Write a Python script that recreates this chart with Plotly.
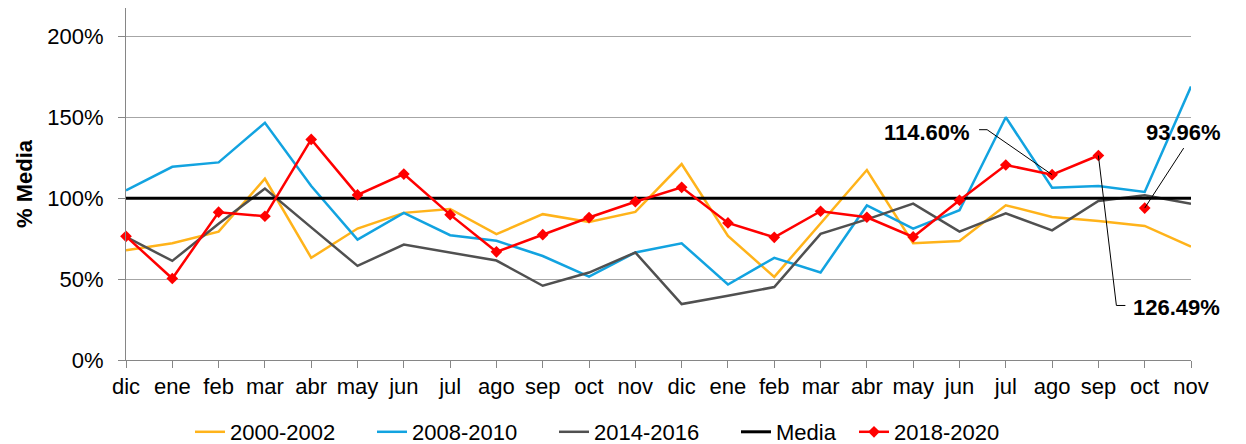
import plotly.graph_objects as go

months = ["dic", "ene", "feb", "mar", "abr", "may", "jun", "jul", "ago", "sep", "oct", "nov",
          "dic", "ene", "feb", "mar", "abr", "may", "jun", "jul", "ago", "sep", "oct", "nov"]

s2000_2002 = [67.9, 72.2, 79.4, 112.1, 63.2, 81.3, 91.0, 93.4, 77.8, 90.2, 85.4, 91.6,
              121.2, 76.7, 51.4, 84.6, 117.5, 72.2, 73.6, 95.7, 88.5, 86.0, 82.9, 70.1]
s2008_2010 = [104.9, 119.5, 122.2, 146.7, 107.6, 74.5, 91.0, 77.2, 73.7, 64.3, 51.6, 66.5,
              72.2, 46.7, 63.2, 54.1, 95.6, 81.2, 92.6, 150.1, 106.6, 107.6, 103.9, 169.1]
s2014_2016 = [76.1, 61.3, 84.2, 106.0, 82.0, 58.2, 71.4, 66.5, 61.5, 45.9, 54.1, 66.5,
              34.6, 39.7, 45.1, 78.0, 87.0, 96.7, 79.4, 90.7, 80.2, 98.4, 101.9, 96.7]
media = [100.0] * 24
s2018_2020 = [76.5, 50.4, 91.4, 88.9, 136.4, 102.1, 115.0, 89.9, 66.9, 77.5, 88.1, 97.9,
              106.8, 84.8, 75.9, 92.0, 88.3, 76.1, 98.8, 120.6, 114.60, 126.49]
s2018_2020_last = [93.96]   # oct, plotted on its own (not joined to sep)

y_ticks = [0, 50, 100, 150, 200]

x = list(range(len(months)))
FONT = "Liberation Sans, Arial, sans-serif"
W, H = 1238, 436

fig = go.Figure()
fig.add_trace(go.Scatter(x=x, y=s2000_2002, name="2000-2002", mode="lines", legend="legend",
                         line=dict(color="#FFB31A", width=2.5), cliponaxis=False))
fig.add_trace(go.Scatter(x=x, y=s2008_2010, name="2008-2010", mode="lines", legend="legend",
                         line=dict(color="#12A3E0", width=2.5), cliponaxis=False))
fig.add_trace(go.Scatter(x=x, y=s2014_2016, name="2014-2016", mode="lines", legend="legend",
                         line=dict(color="#505050", width=2.5), cliponaxis=False))
fig.add_trace(go.Scatter(x=x, y=media, name="Media", mode="lines", legend="legend2",
                         line=dict(color="#000000", width=3), cliponaxis=False))
fig.add_trace(go.Scatter(x=x[:len(s2018_2020)], y=s2018_2020, name="2018-2020", mode="lines+markers",
                         legend="legend3",
                         line=dict(color="#FF0000", width=2.5),
                         marker=dict(symbol="diamond", size=9, color="#FF0000"), cliponaxis=False))
fig.add_trace(go.Scatter(x=x[len(s2018_2020):len(s2018_2020) + 1], y=s2018_2020_last,
                         name="2018-2020", mode="markers", showlegend=False,
                         marker=dict(symbol="diamond", size=9, color="#FF0000"), cliponaxis=False))

ann_font = dict(family=FONT, size=22, color="#000000")
iago, isep, ioct = 20, 21, 22
lbl = [
    (iago, s2018_2020[iago], "<b>114.60%</b>", "right", -80, 42, "M0,0 L-65,45 L-73,45"),
    (isep, s2018_2020[isep], "<b>126.49%</b>", "left", 33, -152, "M0,0 L18,-150 L27,-150"),
    (ioct, s2018_2020_last[0], "<b>93.96%</b>", "center", 39, 76, "M0,0 L39,60"),
]
for xi, yv, txt, xa, xs, ys, path in lbl:
    fig.add_annotation(x=xi, y=yv, text=txt, showarrow=False, xanchor=xa, yanchor="middle",
                       xshift=xs, yshift=ys, font=ann_font)
    fig.add_shape(type="path", xref="x", yref="y", xsizemode="pixel", ysizemode="pixel",
                  xanchor=xi, yanchor=yv, path=path, line=dict(color="#000000", width=1))

leg_font = dict(family=FONT, size=22, color="#000000")
leg_common = dict(orientation="h", xref="container", yref="container", xanchor="left",
                  y=1 - 424 / H, yanchor="middle", font=leg_font, bgcolor="rgba(0,0,0,0)")

fig.update_layout(
    width=W, height=H,
    margin=dict(l=118, r=55, t=0, b=84),
    paper_bgcolor="white", plot_bgcolor="white",
    font=dict(family=FONT, size=22, color="#000000"),
    showlegend=True,
    legend=dict(x=182 / W, entrywidth=137, entrywidthmode="pixels", **leg_common),
    legend2=dict(x=728 / W, **leg_common),
    legend3=dict(x=846 / W, **leg_common),
    xaxis=dict(range=[0, len(months) - 1], tickmode="array", tickvals=x, ticktext=months,
               showgrid=False, zeroline=False, showline=True, linecolor="#868686", linewidth=1,
               ticks="outside", ticklen=7, tickcolor="#868686",
               tickfont=dict(family=FONT, size=22, color="#000000")),
    yaxis=dict(range=[0, 217.7], tickmode="array", tickvals=y_ticks,
               ticktext=[f"{v}%" for v in y_ticks],
               showgrid=True, gridcolor="#A6A6A6", gridwidth=1, zeroline=False,
               showline=True, linecolor="#868686", linewidth=1,
               ticks="outside", ticklen=7, tickcolor="#868686", ticklabelstandoff=10,
               tickfont=dict(family=FONT, size=22, color="#000000"),
               title=dict(text="<b>% Media</b>", font=dict(family=FONT, size=22, color="#000000"),
                          standoff=8)),
)

fig.write_html("out.html")
